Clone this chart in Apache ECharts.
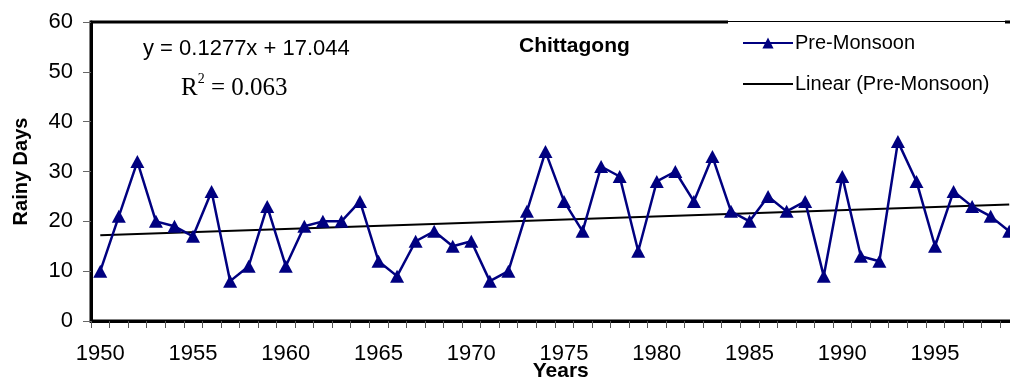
<!DOCTYPE html>
<html>
<head>
<meta charset="utf-8">
<script src="https://cdn.jsdelivr.net/npm/echarts@6/dist/echarts.min.js"></script>
<style>
html,body{margin:0;padding:0;background:#fff;}
#chart{width:1010px;height:381px;}
</style>
</head>
<body>
<div id="chart"></div>
<script>
const years = ["1950","1951","1952","1953","1954","1955","1956","1957","1958","1959",
"1960","1961","1962","1963","1964","1965","1966","1967","1968","1969",
"1970","1971","1972","1973","1974","1975","1976","1977","1978","1979",
"1980","1981","1982","1983","1984","1985","1986","1987","1988","1989",
"1990","1991","1992","1993","1994","1995","1996","1997","1998","1999"];
const preMonsoon = [10,21,32,20,19,17,26,8,11,23,
11,19,20,20,24,12,9,16,18,15,
16,8,10,22,34,24,18,31,29,14,
28,30,24,33,22,20,25,22,24,9,
29,13,12,36,28,15,26,23,21,18];
// trend line end values (1950 and 1999)
const trendEnds = [17.2, 23.4];
const xTickLabels = ["1950","1955","1960","1965","1970","1975","1980","1985","1990","1995"];
const yTicks = [0,10,20,30,40,50,60];
const equationText = "y = 0.1277x + 17.044";
const r2Text = "0.063";
const titleText = "Chittagong";

const trendData = years.map((y,i)=> i===0 ? trendEnds[0] : (i===years.length-1 ? trendEnds[1] : null));

const chart = echarts.init(document.getElementById('chart'));
const FONT = '"Liberation Sans", Arial, sans-serif';
const SERIF = '"Liberation Serif", "Times New Roman", serif';

chart.setOption({
  animation:false,
  backgroundColor:'#fff',
  textStyle:{fontFamily:FONT},
  grid:{left:91, top:22, right:-8.5, bottom:60, show:true, borderColor:'#000', borderWidth:3,
        backgroundColor:'#fff', containLabel:false, outerBoundsMode:'none'},
  legend:{
    left:737, top:28, orient:'vertical', itemWidth:50, itemHeight:14, itemGap:21,
    textStyle:{fontFamily:FONT, fontSize:20, color:'#000', padding:[0,0,0,-3]},
    data:[{name:'Pre-Monsoon'},{name:'Linear (Pre-Monsoon)', itemStyle:{opacity:0}}],
    z:10
  },
  xAxis:{
    type:'category', data:years, boundaryGap:true, position:'bottom',
    axisLine:{show:true, lineStyle:{color:'#000', width:3}},
    axisTick:{show:true, interval:0, length:7, lineStyle:{color:'#555', width:1}},
    axisLabel:{show:true, interval:(i,v)=>xTickLabels.indexOf(v)>=0, fontSize:22, color:'#000', margin:22, fontFamily:FONT},
    splitLine:{show:false},
    name:'Years', nameLocation:'middle', nameGap:40, nameMoveOverlap:false,
    nameTextStyle:{fontFamily:FONT, fontSize:21, fontWeight:'bold', color:'#000', padding:[0,0,0,12]}
  },
  yAxis:{
    type:'value', min:yTicks[0], max:yTicks[yTicks.length-1], interval:10,
    axisLine:{show:true, lineStyle:{color:'#000', width:3}},
    axisTick:{show:true, length:8, lineStyle:{color:'#666', width:1}},
    axisLabel:{fontSize:22, color:'#000', margin:18, fontFamily:FONT},
    splitLine:{show:false},
    name:'Rainy Days', nameLocation:'middle', nameGap:60, nameMoveOverlap:false,
    nameTextStyle:{fontFamily:FONT, fontSize:20, fontWeight:'bold', color:'#000'}
  },
  series:[{
    name:'Pre-Monsoon', type:'line', data:preMonsoon,
    symbol:'triangle', symbolSize:[14,13], showAllSymbol:true,
    itemStyle:{color:'#000080'}, lineStyle:{color:'#000080', width:2.5}, z:3
  },{
    name:'Linear (Pre-Monsoon)', type:'line', data:trendData, connectNulls:true,
    symbol:'none', itemStyle:{color:'#000'}, lineStyle:{color:'#000', width:2}, z:2
  }],
  graphic:[
    {type:'rect', z:5, shape:{x:728, y:18, width:277, height:7}, style:{fill:'#fff'}},
    {type:'line', z:6, shape:{x1:728, y1:21.5, x2:1005, y2:21.5}, style:{stroke:'#000', lineWidth:1}},
    {type:'text', z:6, left:143, top:38, style:{text:equationText, font:'22px '+FONT, fill:'#000'}},
    {type:'text', z:6, left:181, top:72, style:{
      text:'{r|R}{s|2}{r| = '+r2Text+'}', fill:'#000',
      rich:{r:{fontFamily:SERIF, fontSize:25, verticalAlign:'bottom', lineHeight:29}, s:{fontFamily:SERIF, fontSize:14, verticalAlign:'top', lineHeight:29, padding:[0,0,12,0]}}
    }},
    {type:'text', z:6, left:519, top:36, style:{text:titleText, font:'bold 21px '+FONT, fill:'#000'}}
  ]
});
</script>
</body>
</html>
